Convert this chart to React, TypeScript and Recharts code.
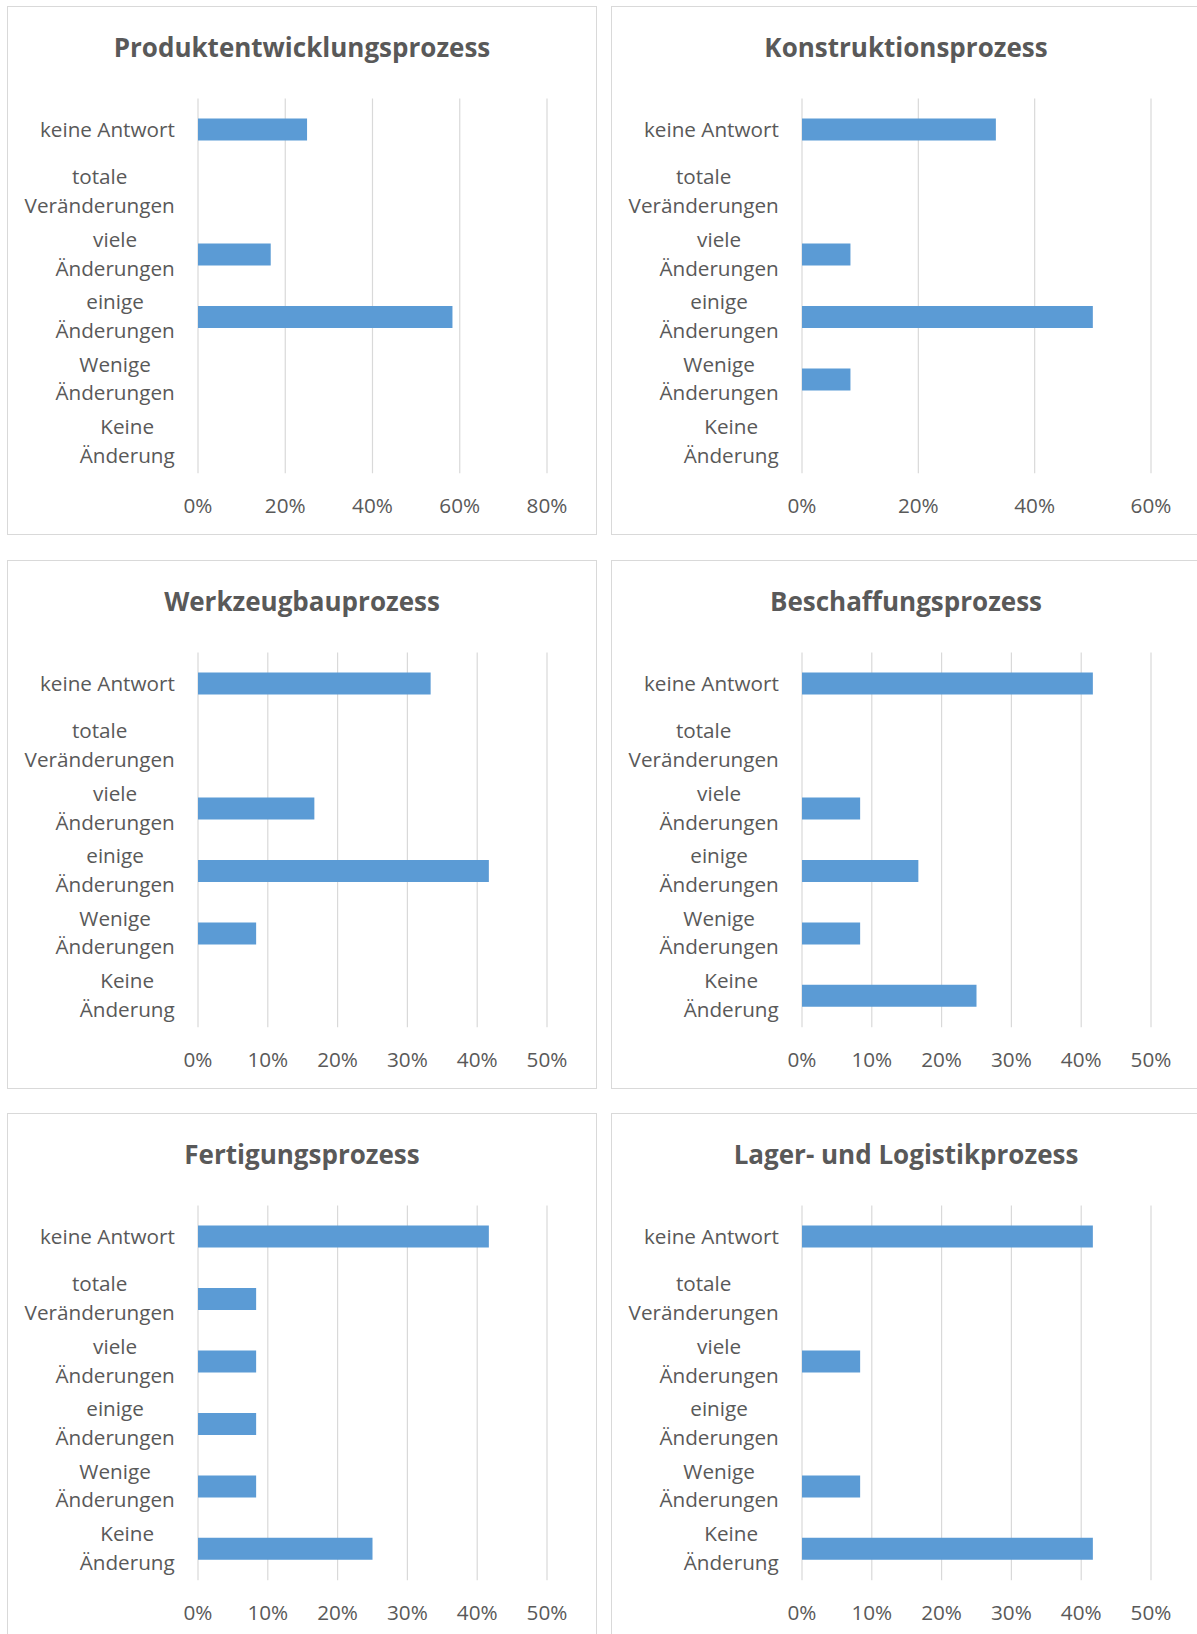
import React from 'react';
import { BarChart, Bar, XAxis, YAxis, CartesianGrid } from 'recharts';

// Categories, top to bottom (line breaks as in the reference labels)
const categories = [
  'keine Antwort',
  'totale\nVeränderungen',
  'viele\nÄnderungen',
  'einige\nÄnderungen',
  'Wenige\nÄnderungen',
  'Keine\nÄnderung',
];

const titles = [
  'Produktentwicklungsprozess',
  'Konstruktionsprozess',
  'Werkzeugbauprozess',
  'Beschaffungsprozess',
  'Fertigungsprozess',
  'Lager- und Logistikprozess',
];

// Values in percent, same order as categories
const produktValues = [25, 0, 16.67, 58.33, 0, 0];
const konstruktionValues = [33.33, 0, 8.33, 50, 8.33, 0];
const werkzeugValues = [33.33, 0, 16.67, 41.67, 8.33, 0];
const beschaffungValues = [41.67, 0, 8.33, 16.67, 8.33, 25];
const fertigungValues = [41.67, 8.33, 8.33, 8.33, 8.33, 25];
const lagerValues = [41.67, 0, 8.33, 0, 8.33, 41.67];

// Axis tick values
const ticks80 = [0, 20, 40, 60, 80];
const ticks60 = [0, 20, 40, 60];
const ticks50 = [0, 10, 20, 30, 40, 50];

const FONT = '"Open Sans", "Noto Sans", sans-serif';
const FS = 20.7;
const TEXT = '#595959';
const GRID = '#D9D9D9';
const BAR = '#5B9BD5';

let ctx: CanvasRenderingContext2D | null = null;
function measure(t: string): number {
  if (!ctx) {
    const c = document.createElement('canvas');
    ctx = c.getContext('2d');
  }
  if (!ctx) return t.length * 11;
  ctx.font = FS + 'px "Open Sans"';
  return ctx.measureText(t).width;
}

function XTick(props: any) {
  const { x, y, payload } = props;
  return (
    <text x={x} y={y + 39.3} textAnchor="middle" fontFamily={FONT} fontSize={FS} fill={TEXT}>
      {payload.value + '%'}
    </text>
  );
}

function YTick(props: any) {
  const { x, y, payload } = props;
  const lines: string[] = String(payload.value).split('\n');
  const right = x - 23.2;
  if (lines.length === 1) {
    return (
      <text x={right} y={y + 7.4} textAnchor="end" fontFamily={FONT} fontSize={FS} fill={TEXT}>
        {lines[0]}
      </text>
    );
  }
  const maxW = Math.max(...lines.map(measure));
  const cx = right - maxW / 2;
  return (
    <g>
      <text x={cx} y={y - 8} textAnchor="middle" fontFamily={FONT} fontSize={FS} fill={TEXT}>
        {lines[0]}
      </text>
      <text x={cx} y={y + 20.8} textAnchor="middle" fontFamily={FONT} fontSize={FS} fill={TEXT}>
        {lines[1]}
      </text>
    </g>
  );
}

function Panel({ title, values, ticks, left, top }: { title: string; values: number[]; ticks: number[]; left: number; top: number }) {
  const data = categories.map((c, i) => ({ name: c, value: values[i] }));
  const max = ticks[ticks.length - 1];
  return (
    <div
      style={{
        position: 'absolute',
        left,
        top,
        width: 590,
        height: 529,
        border: '1px solid ' + GRID,
        boxSizing: 'border-box',
        background: '#fff',
      }}
    >
      <svg width={588} height={70} style={{ position: 'absolute', left: 0, top: 0 }}>
        <text x={294} y={49.6} textAnchor="middle" fontFamily={FONT} fontWeight="bold" fontSize={26} fill={TEXT}>
          {title}
        </text>
      </svg>
      <div style={{ position: 'absolute', left: 0, top: 0 }}>
        <BarChart
          width={588}
          height={527}
          layout="vertical"
          data={data}
          margin={{ top: 91.6, right: 49, bottom: 0, left: 0 }}
          barSize={22}
        >
          <CartesianGrid horizontal={false} stroke={GRID} strokeWidth={1.2} />
          <XAxis
            type="number"
            domain={[0, max]}
            ticks={ticks}
            interval={0}
            axisLine={false}
            tickLine={false}
            tickSize={0}
            tickMargin={0}
            height={60.7}
            tick={<XTick />}
          />
          <YAxis
            type="category"
            dataKey="name"
            width={190}
            interval={0}
            axisLine={false}
            tickLine={false}
            tickSize={0}
            tickMargin={0}
            tick={<YTick />}
          />
          <Bar dataKey="value" fill={BAR} isAnimationActive={false} />
        </BarChart>
      </div>
    </div>
  );
}

export default function App() {
  const colX = [7, 611];
  const rowY = [6, 559.5, 1113];
  return (
    <div
      style={{
        position: 'absolute',
        left: 0,
        top: 0,
        width: 1197,
        height: 1634,
        overflow: 'hidden',
        background: '#fff',
      }}
    >
      <Panel title={titles[0]} values={produktValues} ticks={ticks80} left={colX[0]} top={rowY[0]} />
      <Panel title={titles[1]} values={konstruktionValues} ticks={ticks60} left={colX[1]} top={rowY[0]} />
      <Panel title={titles[2]} values={werkzeugValues} ticks={ticks50} left={colX[0]} top={rowY[1]} />
      <Panel title={titles[3]} values={beschaffungValues} ticks={ticks50} left={colX[1]} top={rowY[1]} />
      <Panel title={titles[4]} values={fertigungValues} ticks={ticks50} left={colX[0]} top={rowY[2]} />
      <Panel title={titles[5]} values={lagerValues} ticks={ticks50} left={colX[1]} top={rowY[2]} />
    </div>
  );
}
